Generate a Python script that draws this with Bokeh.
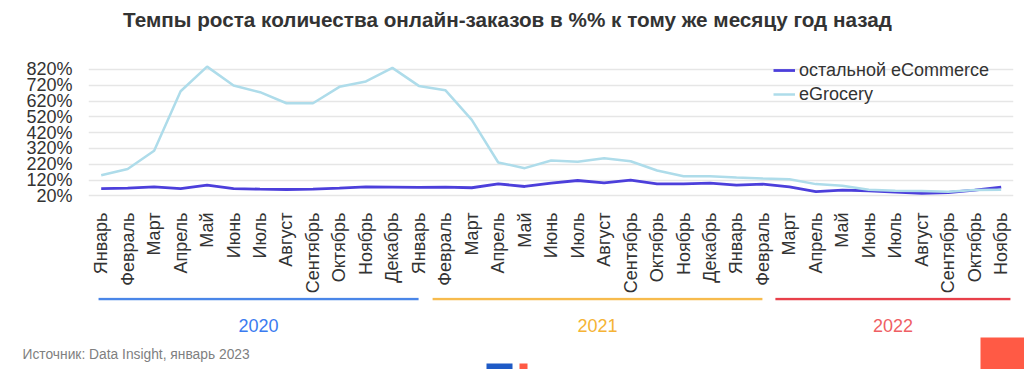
import math
from bokeh.plotting import figure
from bokeh.models import (ColumnDataSource, FixedTicker, Legend, LegendItem,
                          Range1d, Label, BoxAnnotation)
from bokeh.layouts import column
from bokeh.core.properties import value
from bokeh.embed import file_html
from bokeh.resources import INLINE

# ---------------- data ----------------
months = ["Январь", "Февраль", "Март", "Апрель", "Май", "Июнь", "Июль",
          "Август", "Сентябрь", "Октябрь", "Ноябрь", "Декабрь"]
month_labels = months + months + months[:11]
years = ["2020", "2021", "2022"]

other_ecom = [66, 68, 77, 66, 87, 66, 62, 60, 62, 68, 77, 75,
              73, 75, 71, 96, 79, 100, 117, 102, 119, 96, 96, 100,
              87, 94, 77, 47, 56, 52, 43, 35, 41, 56, 75]
egrocery = [150, 190, 305, 682, 838, 718, 676, 606, 606, 710, 744, 830,
            716, 689, 501, 231, 195, 244, 235, 258, 239, 180, 144, 144,
            136, 130, 125, 94, 83, 58, 52, 50, 45, 56, 58]
y_ticks = [20, 120, 220, 320, 420, 520, 620, 720, 820]
y_tick_labels = ["20%", "120%", "220%", "320%", "420%", "520%", "620%", "720%", "820%"]

title_text = "Темпы роста количества онлайн-заказов в %% к тому же месяцу год назад"
source_text = "Источник: Data Insight, январь 2023"
series_names = ["остальной eCommerce", "eGrocery"]

# ---------------- layout constants ----------------
FONT = "Liberation Sans"
W = 1024
H0 = 40                 # title strip
H1 = 257                # chart
H2 = 369 - H0 - H1      # year strip
PX0 = 100.7     # page x of first month
DX = 26.47      # px per month
FL, FR = 88, 1013
FT, FB = 60, 204
Y20 = 195.3     # page y of 20 %
PXPCT = 0.1579  # px per percent

# ---------------- title strip ----------------
p0 = figure(width=W, height=H0, x_range=Range1d(0, W), y_range=Range1d(0, H0),
            toolbar_location=None, output_backend="svg",
            x_axis_location=None, y_axis_location=None, min_border=0)
p0.frame_align = False
p0.outline_line_color = None
p0.grid.grid_line_color = None
p0.add_layout(Label(x=507, y=H0 - 19, x_units="screen", y_units="screen",
                    text=title_text, text_font=FONT, text_font_size="20.7px",
                    text_font_style="bold", text_color="#333333",
                    text_align="center", text_baseline="middle"))

# ---------------- chart ----------------
x_start = (FL - PX0) / DX
x_end = (FR - PX0) / DX
y_start = 20 - (FB - Y20) / PXPCT
y_end = 20 + (Y20 - FT) / PXPCT

idx = list(range(len(month_labels)))
src = ColumnDataSource(dict(x=idx, other=other_ecom, egro=egrocery))

p = figure(width=W, height=H1, x_range=Range1d(x_start, x_end),
           y_range=Range1d(y_start, y_end), toolbar_location=None,
           output_backend="svg", min_border_left=FL, min_border_right=W - FR,
           min_border_top=FT - H0, min_border_bottom=H0 + H1 - FB)
p.frame_align = False
p.outline_line_color = None
p.background_fill_color = "white"
p.border_fill_color = "white"

r1 = p.line("x", "other", source=src, line_color="#4c3fdb", line_width=2.8)
r2 = p.line("x", "egro", source=src, line_color="#aedcea", line_width=2.5)

p.xaxis.ticker = FixedTicker(ticks=idx)
p.xaxis.major_label_overrides = {i: m for i, m in zip(idx, month_labels)}
p.xaxis.major_label_orientation = math.pi / 2
p.yaxis.ticker = FixedTicker(ticks=y_ticks)
p.yaxis.major_label_overrides = {t: l for t, l in zip(y_ticks, y_tick_labels)}
for ax in (p.xaxis, p.yaxis):
    ax.axis_line_color = None
    ax.major_tick_line_color = None
    ax.minor_tick_line_color = None
    ax.major_tick_out = 0
    ax.major_tick_in = 0
    ax.major_label_text_font = FONT
    ax.major_label_text_font_size = "18px"
    ax.major_label_text_color = "#333333"
p.xaxis.major_label_standoff = 8
p.yaxis.major_label_standoff = 16

p.xgrid.grid_line_color = None
p.ygrid.grid_line_color = "#e6e6e6"
p.ygrid.grid_line_width = 1.6

legend = Legend(items=[LegendItem(label=series_names[0], renderers=[r1]),
                       LegendItem(label=series_names[1], renderers=[r2])],
                location=(685, 98), orientation="vertical")
legend.background_fill_alpha = 0
legend.border_line_color = None
legend.padding = 0
legend.margin = 0
legend.spacing = 0
legend.glyph_width = 22
legend.glyph_height = 24
legend.label_height = 24
legend.label_standoff = 4
legend.label_text_font = FONT
legend.label_text_font_size = "18px"
legend.label_text_color = "#333333"
p.add_layout(legend)

# ---------------- year strip ----------------
band_start = [-0.1, 12.52, 25.47]
band_end = [11.99, 24.98, 34.35]
band_colors = ["#4a86e8", "#f7bb4d", "#e8404a"]
year_text_colors = ["#3b7bf0", "#f5b335", "#ef5f64"]

TOP2 = H0 + H1   # page y where the strip starts
p2 = figure(width=W, height=H2, x_range=Range1d((0 - PX0) / DX, (W - PX0) / DX),
            y_range=Range1d(0, H2), toolbar_location=None, output_backend="svg",
            x_axis_location=None, y_axis_location=None, min_border=0)
p2.frame_align = False
p2.outline_line_color = None
p2.grid.grid_line_color = None

bsrc = ColumnDataSource(dict(x0=band_start, x1=band_end,
                             xm=[(a + b) / 2 for a, b in zip(band_start, band_end)],
                             yl=[H2 - (298.5 - TOP2)] * 3, yt=[H2 - (325 - TOP2)] * 3,
                             c=band_colors, tc=year_text_colors, t=years))
p2.segment(x0="x0", y0="yl", x1="x1", y1="yl", source=bsrc,
           line_color="c", line_width=2.5)
p2.text(x="xm", y="yt", text="t", source=bsrc, text_color="tc",
        text_font=value(FONT), text_font_size="18px",
        text_align="center", text_baseline="middle")

def screen_box(l, r, t, b, color):
    # page-pixel box inside the strip
    return BoxAnnotation(left=l, right=r, top=H2 - (t - TOP2), bottom=H2 - (b - TOP2),
                         left_units="screen", right_units="screen",
                         bottom_units="screen", top_units="screen",
                         fill_color=color, fill_alpha=1, line_color=None)

p2.add_layout(screen_box(980, W, 337, 369, "#ff5a45"))
p2.add_layout(screen_box(486, 512, 363, 369, "#1f5bc6"))
p2.add_layout(screen_box(519, 527, 363, 369, "#ff5a45"))
p2.add_layout(Label(x=22, y=H2 - (354 - TOP2), x_units="screen", y_units="screen",
                    text=source_text, text_font=FONT, text_font_size="13.8px",
                    text_color="#7f7f7f", text_baseline="middle"))

layout = column(p0, p, p2, spacing=0)
open("out.html", "w").write(file_html(layout, INLINE))
